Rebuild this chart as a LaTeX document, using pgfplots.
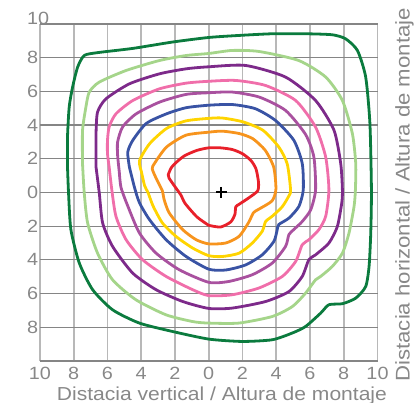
\documentclass[border=0pt]{standalone}
\usepackage{fontspec}
\setmainfont{Liberation Sans}[FakeStretch=1.12]
\usepackage{pgfplots}
\pgfplotsset{compat=1.18}
\definecolor{txtgray}{RGB}{136,136,136}
\definecolor{cred}{RGB}{232,32,42}
\definecolor{corange}{RGB}{247,148,29}
\definecolor{cyellow}{RGB}{255,212,0}
\definecolor{cblue}{RGB}{57,83,164}
\definecolor{cviolet}{RGB}{169,81,159}
\definecolor{cpink}{RGB}{240,110,170}
\definecolor{cpurple}{RGB}{125,42,138}
\definecolor{clgreen}{RGB}{165,213,138}
\definecolor{cdgreen}{RGB}{11,123,62}
\begin{document}
\begin{tikzpicture}
\begin{axis}[
  scale only axis, width=337.5pt, height=337pt,
  xmin=-10, xmax=10, ymin=-10, ymax=10,
  axis line style={draw=none},
  major tick length=0pt,
  xtick={-10,-8,...,10},
  xticklabels={10,8,6,4,2,0,2,4,6,8,10},
  ytick={-10,-8,...,8},
  yticklabels={,8,6,4,2,0,2,4,6,8},
  extra y ticks={10}, extra y tick labels={10},
  extra y tick style={yticklabel style={yshift=6pt}},
  grid=major,
  x grid style={draw=black!28, line width=1.8pt},
  y grid style={draw=black!48, line width=1.2pt},
  /pgf/number format/assume math mode=true,
  ticklabel style={font=\fontsize{17.7}{20}\selectfont, text=txtgray},
  yticklabel style={anchor=west, inner sep=0pt, xshift=-13pt},
  xticklabel style={anchor=north, inner sep=0pt, yshift=-6pt},
  xlabel={Distacia vertical / Altura de montaje},
  xlabel style={at={(axis description cs:0.539,0)}, anchor=base, yshift=-39pt, font=\fontsize{18.8}{21}\selectfont, text=txtgray, inner sep=0pt},
  ylabel={Distacia horizontal / Altura de montaje},
  ylabel style={at={(axis description cs:1.0948,0.493)}, anchor=base, font=\fontsize{19.8}{22}\selectfont, text=txtgray, inner sep=0pt},
  every axis plot/.append style={line width=2.8pt, smooth, tension=0.4, line join=round},
]
% dark green
\addplot[cdgreen] coordinates {(-8.37,1.51) (-8.37,3.29) (-8.27,5.07) (-8.07,6.25) (-7.77,7.44) (-7.38,8.13) (-6.59,8.30) (-4.51,8.55) (-2.14,8.93) (0,9.2) (1.78,9.32) (3.76,9.42) (5.74,9.42) (7.32,9.36) (8.11,9.12) (8.81,8.43) (9.3,6.85) (9.55,4.1) (9.64,0.15) (9.6,-2.41) (9.5,-4.39) (9.3,-5.58) (8.71,-6.27) (7.92,-6.6) (7.12,-6.66) (6.63,-7.16) (5.74,-7.95) (4.95,-8.34) (3.76,-8.74) (1.98,-8.84) (0,-8.7) (-2.14,-8.25) (-4.11,-7.75) (-5.7,-6.96) (-6.88,-5.77) (-7.67,-4.19) (-8.17,-2.2) (-8.31,0.0) (-8.37,1.51)};
% light green
\addplot[clgreen] coordinates {(-7.48,1.7) (-7.48,3.68) (-7.28,5.07) (-7.08,5.96) (-6.49,6.55) (-4.9,7.24) (-2.93,7.83) (-1.34,8.13) (0,8.25) (1.39,8.43) (2.97,8.37) (5.34,7.83) (6.93,6.85) (7.92,5.46) (8.51,3.5) (8.71,1.72) (8.69,0.15) (8.61,-0.83) (8.31,-2.41) (7.92,-3.6) (7.32,-4.39) (6.63,-4.98) (6.33,-5.18) (5.74,-5.97) (4.95,-6.77) (3.76,-7.36) (1.78,-7.75) (0,-7.75) (-0.95,-7.66) (-2.53,-7.26) (-4.31,-6.37) (-5.7,-5.18) (-6.59,-3.6) (-7.18,-1.8) (-7.38,0.0) (-7.48,1.7)};
% purple
\addplot[cpurple] coordinates {(-6.68,1.51) (-6.68,3.48) (-6.59,4.77) (-6.09,5.56) (-4.7,6.45) (-2.93,7.04) (-1.34,7.34) (0,7.46) (2.18,7.54) (4.55,6.85) (6.33,5.46) (7.42,3.7) (7.82,1.72) (7.92,0.15) (7.88,-0.63) (7.62,-2.02) (7.12,-3.0) (6.33,-3.7) (5.93,-3.99) (5.54,-4.98) (4.75,-5.88) (3.37,-6.47) (1.39,-6.86) (0,-6.88) (-1.54,-6.47) (-3.12,-5.77) (-4.51,-4.78) (-5.7,-3.2) (-6.29,-1.8) (-6.49,0.0) (-6.68,1.51)};
% pink
\addplot[cpink] coordinates {(-5.9,1.5) (-6.0,2.3) (-6.0,3.1) (-5.9,3.9) (-5.5,4.67) (-4.5,5.46) (-2.93,6.15) (-1.34,6.49) (0,6.6) (1.6,6.65) (3.37,6.35) (5.15,5.46) (6.33,3.88) (6.93,2.1) (7.12,0.15) (6.93,-1.41) (6.53,-2.2) (5.93,-2.81) (5.54,-3.1) (5.15,-4.09) (4.36,-4.98) (2.97,-5.67) (1.39,-6.07) (0,-6.12) (-0.95,-5.77) (-2.53,-4.98) (-3.92,-3.99) (-4.9,-2.8) (-5.5,-1.41) (-5.75,0.2) (-5.9,1.5)};
% violet
\addplot[cviolet] coordinates {(-5.3,1.2) (-5.4,2.2) (-5.4,3.0) (-5.1,3.9) (-4.3,4.67) (-2.9,5.37) (-1.35,5.82) (0,5.92) (1.4,5.96) (3.0,5.66) (4.55,4.87) (5.74,3.44) (6.23,2.1) (6.33,0.15) (6.04,-1.03) (5.54,-1.72) (5.04,-2.2) (4.75,-2.5) (4.55,-3.2) (3.76,-4.19) (2.58,-4.88) (1.19,-5.28) (0,-5.33) (-1.74,-4.59) (-3.12,-3.6) (-4.11,-2.4) (-4.8,-0.8) (-5.2,0.3) (-5.3,1.2)};
% blue
\addplot[cblue] coordinates {(-4.7,1.5) (-4.8,2.4) (-4.5,3.1) (-3.7,4.1) (-2.5,4.67) (-1.35,5.03) (0,5.18) (1.4,5.22) (2.77,4.97) (3.96,4.27) (5.04,3.1) (5.54,1.72) (5.6,0.15) (5.34,-0.83) (4.75,-1.52) (4.15,-1.9) (4.06,-2.2) (3.86,-2.9) (3.17,-3.7) (2.18,-4.3) (1.0,-4.6) (0,-4.55) (-1.34,-3.8) (-2.53,-2.8) (-3.52,-1.6) (-4.11,-0.6) (-4.4,0.3) (-4.7,1.5)};
% yellow
\addplot[cyellow] coordinates {(-4.0,1.27) (-4.1,1.9) (-3.5,2.9) (-2.5,3.8) (-1.35,4.25) (0,4.4) (0.8,4.42) (2.0,4.2) (3.2,3.7) (4.15,2.7) (4.65,1.7) (4.85,0.15) (4.75,-0.2) (4.35,-0.85) (3.75,-1.42) (3.37,-1.72) (3.17,-2.3) (2.58,-3.0) (1.8,-3.6) (0.8,-3.8) (0,-3.75) (-0.95,-3.3) (-1.95,-2.6) (-2.75,-1.8) (-3.3,-0.8) (-3.6,0) (-3.8,0.4) (-4.0,1.27)};
% orange
\addplot[corange] coordinates {(-3.05,0.7) (-3.35,1.4) (-3.2,1.75) (-2.5,2.7) (-1.35,3.4) (0,3.58) (0.8,3.64) (1.8,3.5) (2.6,3.2) (3.35,2.5) (3.85,1.5) (3.98,0.2) (3.75,-0.5) (2.95,-1.0) (2.65,-1.2) (2.35,-1.8) (1.8,-2.6) (1.0,-3.0) (0,-3.05) (-0.75,-2.8) (-1.55,-2.2) (-2.35,-1.2) (-2.65,-0.4) (-2.75,0.1) (-3.05,0.7)};
% red
\addplot[cred] coordinates {(0,-1.95) (-0.7,-1.45) (-1.4,-0.65) (-1.65,-0.15) (-1.9,0.2) (-2.35,0.85) (-2.4,1.05) (-2.2,1.5) (-1.8,1.9) (-1.4,2.2) (-0.7,2.5) (0,2.65) (0.7,2.65) (1.4,2.55) (2.0,2.3) (2.5,1.9) (2.8,1.4) (2.95,0.6) (2.9,0.1) (2.4,-0.3) (1.8,-0.7) (1.6,-0.85) (1.55,-1.3) (1.3,-1.75) (0.7,-2.05) (0,-1.95)};
% centre cross
\addplot[only marks, mark=+, mark size=5.5pt, black, mark options={line width=2pt}] coordinates {(0.75,0)};
\end{axis}
\pgfresetboundingbox
\path[use as bounding box] (-40pt,-42pt) rectangle (374pt,361pt);
\end{tikzpicture}
\end{document}
